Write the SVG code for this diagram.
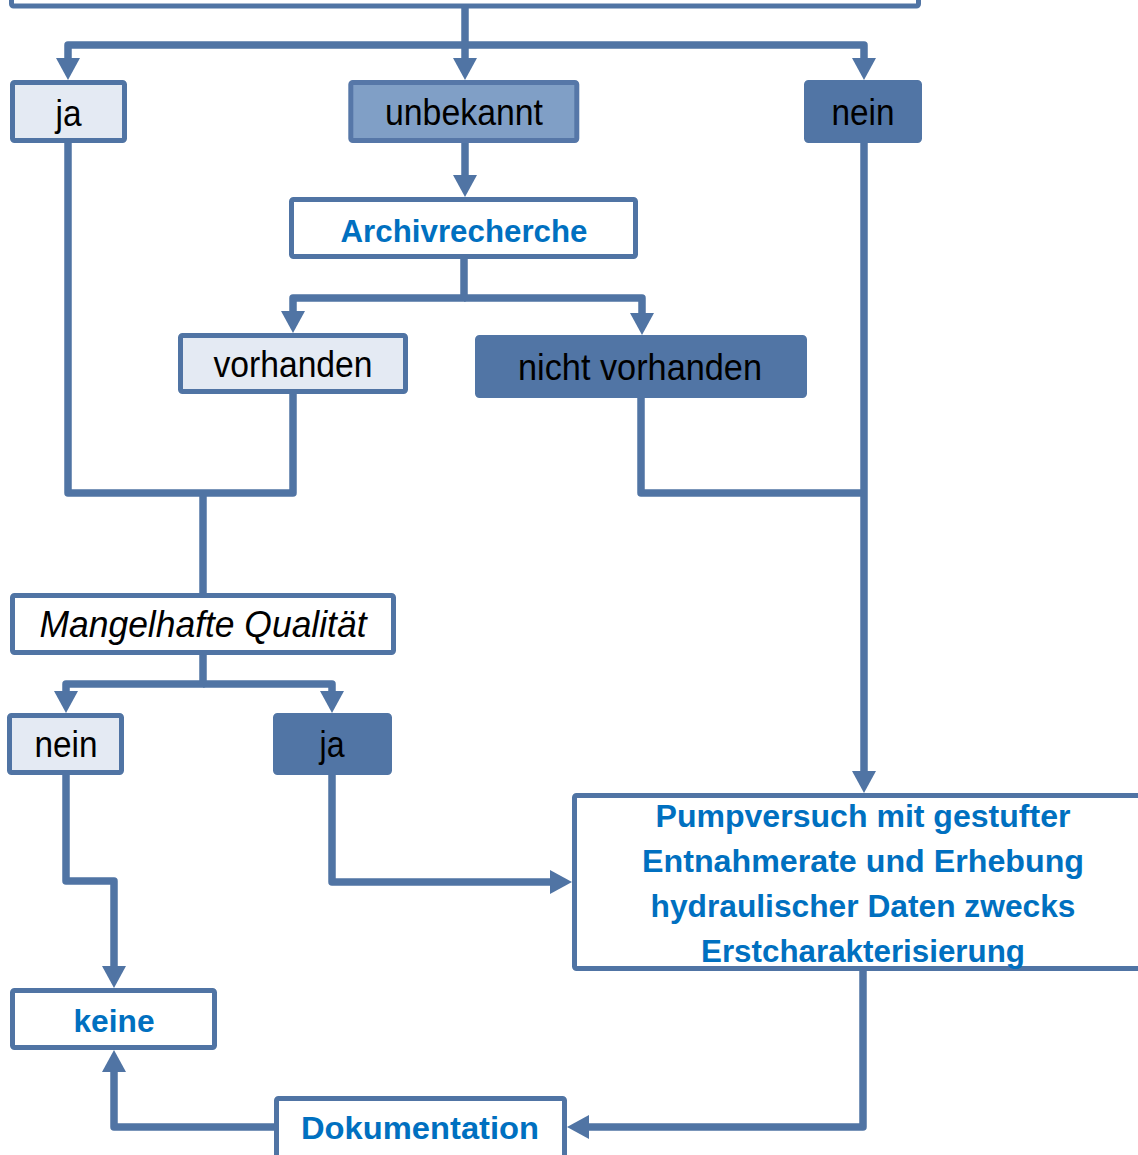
<svg xmlns="http://www.w3.org/2000/svg" width="1138" height="1155" viewBox="0 0 1138 1155">
<style>
.box{stroke:#5074A4;stroke-width:5;}
.white{fill:#FFFFFF;}
.light{fill:#E4EAF3;}
.mid{fill:#809FC6;stroke:#5677A8;}
.dark{fill:#5175A5;stroke:#5175A5;}
.conn{fill:none;stroke:#5074A4;stroke-width:7.5;stroke-linejoin:round;}
.t{font-family:"Liberation Sans",Arial,sans-serif;font-size:36px;fill:#000000;text-anchor:middle;}
.b{font-family:"Liberation Sans",Arial,sans-serif;font-size:32px;font-weight:bold;fill:#0070C0;text-anchor:middle;}
.p{font-family:"Liberation Sans",Arial,sans-serif;font-size:31px;font-weight:bold;fill:#0070C0;text-anchor:middle;}
.i{font-style:italic;}
</style>
<defs>
<marker id="ah" markerUnits="userSpaceOnUse" viewBox="0 0 22 24" markerWidth="22" markerHeight="24" refX="12" refY="12" orient="auto">
<path d="M0,0 L22,12 L0,24 Z" fill="#5074A4"/>
</marker>
</defs>
<rect width="1138" height="1155" fill="#FFFFFF"/>

<g id="connectors">
<path class="conn" d="M465,6 V70" marker-end="url(#ah)"/>
<path class="conn" d="M465,45 H68 V70" marker-end="url(#ah)"/>
<path class="conn" d="M465,45 H864 V70" marker-end="url(#ah)"/>
<path class="conn" d="M465,143 V187" marker-end="url(#ah)"/>
<path class="conn" d="M464,259 V298 H293 V323" marker-end="url(#ah)"/>
<path class="conn" d="M464,298 H642 V325" marker-end="url(#ah)"/>
<path class="conn" d="M68,143 V493 H293 V394"/>
<path class="conn" d="M203,493 V594"/>
<path class="conn" d="M641,398 V493 H864"/>
<path class="conn" d="M864,143 V783" marker-end="url(#ah)"/>
<path class="conn" d="M203,655 V684 H66 V703" marker-end="url(#ah)"/>
<path class="conn" d="M203,684 H332 V703" marker-end="url(#ah)"/>
<path class="conn" d="M66,775 V881 H114 V978" marker-end="url(#ah)"/>
<path class="conn" d="M332,775 V882 H562" marker-end="url(#ah)"/>
<path class="conn" d="M863,970 V1127 H577" marker-end="url(#ah)"/>
<path class="conn" d="M276,1127 H114 V1060" marker-end="url(#ah)"/>
</g>

<g id="top">
<rect class="box white" x="11.5" y="-60" width="907" height="66" rx="2"/>
</g>

<g id="ja1">
<rect class="box light" x="12.5" y="82.5" width="112" height="58" rx="2"/>
<text class="t" x="68.5" y="126" textLength="26" lengthAdjust="spacingAndGlyphs">ja</text>
</g>

<g id="unbekannt">
<rect class="box mid" x="350.8" y="82.5" width="226" height="58" rx="2"/>
<text class="t" x="464" y="125" textLength="158" lengthAdjust="spacingAndGlyphs">unbekannt</text>
</g>

<g id="nein1">
<rect class="box dark" x="806.5" y="82.5" width="113" height="58" rx="2"/>
<text class="t" x="863" y="125" textLength="63" lengthAdjust="spacingAndGlyphs">nein</text>
</g>

<g id="archivrecherche">
<rect class="box white" x="291.5" y="199.5" width="344" height="57" rx="2"/>
<text class="b" x="464" y="242" textLength="247" lengthAdjust="spacingAndGlyphs">Archivrecherche</text>
</g>

<g id="vorhanden">
<rect class="box light" x="180.5" y="335.5" width="225" height="56" rx="2"/>
<text class="t" x="293" y="377" textLength="159" lengthAdjust="spacingAndGlyphs">vorhanden</text>
</g>

<g id="nicht-vorhanden">
<rect class="box dark" x="477.5" y="337.5" width="327" height="58" rx="2"/>
<text class="t" x="640" y="380" textLength="244" lengthAdjust="spacingAndGlyphs">nicht vorhanden</text>
</g>

<g id="mangelhafte">
<rect class="box white" x="12.5" y="595.5" width="381" height="57" rx="2"/>
<text class="t i" x="203" y="637" textLength="327" lengthAdjust="spacingAndGlyphs">Mangelhafte Qualität</text>
</g>

<g id="nein2">
<rect class="box light" x="9.5" y="715.5" width="112" height="57" rx="2"/>
<text class="t" x="66" y="757" textLength="63" lengthAdjust="spacingAndGlyphs">nein</text>
</g>

<g id="ja2">
<rect class="box dark" x="275.5" y="715.5" width="114" height="57" rx="2"/>
<text class="t" x="332" y="757" textLength="25" lengthAdjust="spacingAndGlyphs">ja</text>
</g>

<g id="pumpversuch">
<rect class="box white" x="574.5" y="795.5" width="620" height="173" rx="2"/>
<text class="p" x="863" y="827" textLength="415" lengthAdjust="spacingAndGlyphs">Pumpversuch mit gestufter</text>
<text class="p" x="863" y="872" textLength="442" lengthAdjust="spacingAndGlyphs">Entnahmerate und Erhebung</text>
<text class="p" x="863" y="917" textLength="425" lengthAdjust="spacingAndGlyphs">hydraulischer Daten zwecks</text>
<text class="p" x="863" y="962" textLength="324" lengthAdjust="spacingAndGlyphs">Erstcharakterisierung</text>
</g>

<g id="keine">
<rect class="box white" x="12.5" y="990.5" width="202" height="57" rx="2"/>
<text class="b" x="114" y="1032" textLength="81" lengthAdjust="spacingAndGlyphs">keine</text>
</g>

<g id="dokumentation">
<rect class="box white" x="276.5" y="1098.5" width="288" height="100" rx="2"/>
<text class="b" x="420" y="1139" textLength="238" lengthAdjust="spacingAndGlyphs">Dokumentation</text>
</g>
</svg>
